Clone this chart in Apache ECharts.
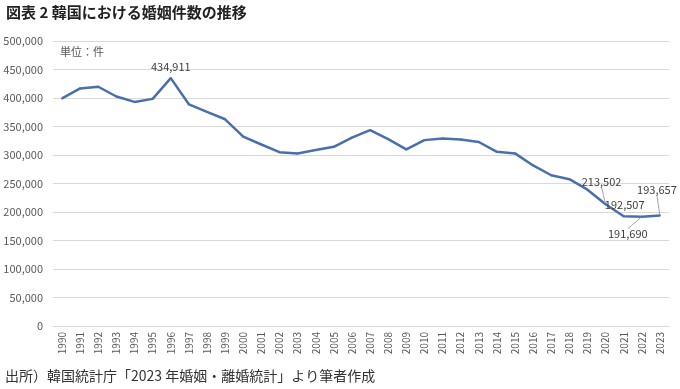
<!DOCTYPE html>
<html><head><meta charset="utf-8">
<script src="https://cdn.jsdelivr.net/npm/echarts@6/dist/echarts.min.js"></script>
<style>html,body{margin:0;padding:0;background:#fff}#c{width:680px;height:389px}</style>
</head><body><div id="c"></div>
<script>
var years = ['1990','1991','1992','1993','1994','1995','1996','1997','1998','1999','2000','2001','2002','2003','2004','2005','2006','2007','2008','2009','2010','2011','2012','2013','2014','2015','2016','2017','2018','2019','2020','2021','2022','2023'];
var marriages = [399312,416872,419774,402593,393121,398484,434911,388960,375616,362673,332090,318407,304877,302503,308598,314304,330634,343559,327715,309759,326104,329087,327073,322807,305507,302828,281635,264455,257622,239159,213502,192507,191690,193657];
var yTicks = [0,50000,100000,150000,200000,250000,300000,350000,400000,450000,500000];
var labeledYears = ['1996','2020','2021','2022','2023'];

var FONT = '"Noto Sans CJK JP", "Noto Sans", sans-serif';
var offsets = {'1996':[0,0,false,'top'],'2020':[-4,-11,true,'top'],'2021':[1,0,false,'top'],'2022':[-14,6,true,'bottom'],'2023':[-3,-14,true,'top']};

var data = marriages.map(function(v,i){
  var y = years[i];
  var item = {value: v};
  if (labeledYears.indexOf(y) >= 0) {
    var o = offsets[y];
    item.label = {show: true, position: o[3]};
    item.labelLine = {show: o[2], lineStyle:{color:'#a6a6a6', width:1}};
  }
  return item;
});

var chart = echarts.init(document.getElementById('c'));
chart.setOption({
  animation: false,
  textStyle: {fontFamily: FONT},
  title: [
    {text: '図表 2 韓国における婚姻件数の推移', left: 6, top: 5, padding: 0, textStyle:{fontSize:15, fontWeight:'bold', color:'#222', fontFamily: FONT}},
    {text: '単位：件', left: 60, top: 46, padding: 0, textStyle:{fontSize:11, fontWeight:'normal', color:'#595959', fontFamily: FONT}},
    {text: '出所）韓国統計庁「2023 年婚姻・離婚統計」より筆者作成', left: 5, top: 369, padding: 0, textStyle:{fontSize:14, fontWeight:'normal', color:'#333', fontFamily: FONT}}
  ],
  grid: {left: 53, right: 11, top: 41, bottom: 63, containLabel: false},
  xAxis: {
    type: 'category', data: years, boundaryGap: true,
    axisLine: {show: true, lineStyle:{color:'#d9d9d9'}},
    axisTick: {show: false},
    axisLabel: {rotate: 90, fontSize: 10, color:'#595959', margin: 6, interval: 0, fontFamily: FONT}
  },
  yAxis: {
    type: 'value', min: 0, max: 500000, interval: 50000,
    axisLine: {show: false}, axisTick: {show: false},
    splitLine: {lineStyle:{color:'#d9d9d9', width: 1}},
    axisLabel: {fontSize: 11, color:'#595959', margin: 10, fontFamily: FONT,
      formatter: function(v){ return v === 0 ? '0' : v.toLocaleString('en-US'); }}
  },
  series: [{
    type: 'line', data: data,
    symbol: 'circle', symbolSize: 2, showSymbol: true,
    itemStyle: {color:'#4a6fad'},
    lineStyle: {color:'#4a6fad', width: 2.5},
    label: {show: false, fontSize: 11, color:'#404040', fontFamily: FONT,
      formatter: function(p){ return p.value.toLocaleString('en-US'); }},
    labelLayout: function(p){
      var y = years[p.dataIndex];
      var o = offsets[y];
      if (!o) return {};
      return {dx: o[0], dy: o[1]};
    }
  }]
});
</script>
</body></html>
